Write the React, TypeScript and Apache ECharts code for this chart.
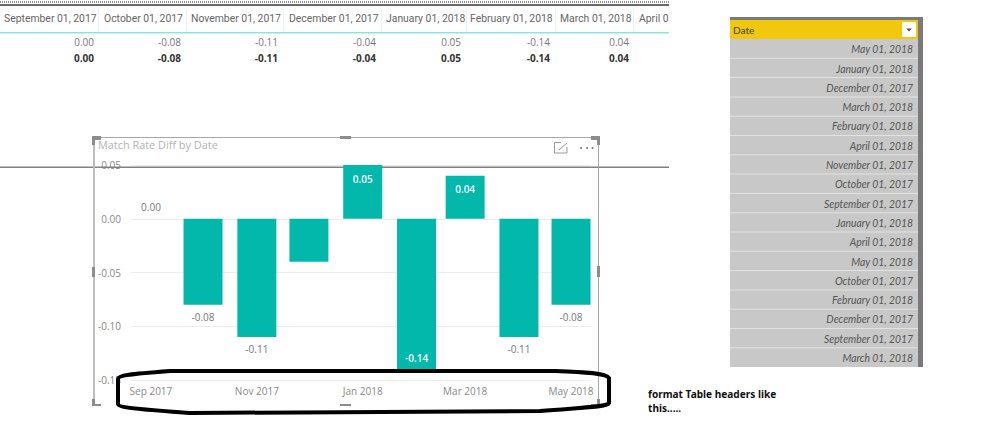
import React, { useEffect, useRef } from "react";
import * as echarts from "echarts";

const months = ["2017-09-01", "2017-10-01", "2017-11-01", "2017-12-01", "2018-01-01", "2018-02-01", "2018-03-01", "2018-04-01", "2018-05-01"];
const diffs = [0.0, -0.08, -0.11, -0.04, 0.05, -0.14, 0.04, -0.11, -0.08];
const tickMonths = ["2017-09-01", "2017-11-01", "2018-01-01", "2018-03-01", "2018-05-01"];
const tickLabels = ["Sep 2017", "Nov 2017", "Jan 2018", "Mar 2018", "May 2018"];

const headerNames = ["September 01, 2017", "October 01, 2017", "November 01, 2017", "December 01, 2017", "January 01, 2018", "February 01, 2018", "March 01, 2018", "April 01, 2018"];
const headerLefts = [4, 104, 191, 289, 386, 470, 560, 639];
const separators = [98, 186, 283, 381, 466, 555, 633];
const tableValues = ["0.00", "-0.08", "-0.11", "-0.04", "0.05", "-0.14", "0.04"];
const valueRights = [94, 181, 278, 376, 461, 550, 629];

const slicerDates = ["May 01, 2018", "January 01, 2018", "December 01, 2017", "March 01, 2018", "February 01, 2018", "April 01, 2018", "November 01, 2017", "October 01, 2017", "September 01, 2017", "January 01, 2018", "April 01, 2018", "May 01, 2018", "October 01, 2017", "February 01, 2018", "December 01, 2017", "September 01, 2017", "March 01, 2018"];

const ts = (s: string) => {
  const [y, m, d] = s.split("-").map(Number);
  return new Date(y, m - 1, d).getTime();
};

const labelFor = (v: number) => {
  if (v === -0.04) return { show: false };
  if (v === -0.14) return { show: true, position: "insideBottom", distance: 6, color: "#ffffff", fontWeight: 600 };
  if (v > 0) return { show: true, position: "insideTop", distance: 8.5, color: "#ffffff", fontWeight: 600 };
  if (v === 0) return { show: true, position: "top", distance: 7, color: "#777777" };
  return { show: true, position: "bottom", distance: 7, color: "#777777" };
};

const FONT = "'Open Sans', sans-serif";
const ANNOT = "M 118 379 C 118 375 130 374 170 371 L 555 371 C 585 372 606 373 609 378 L 609 403 C 607 407 590 407 540 411 L 190 413 C 150 410 118 408 118 404 Z";
echarts.graphic.registerShape("annotLoop", echarts.graphic.extendPath(ANNOT, {}));

export default function App() {
  const ref = useRef<HTMLDivElement>(null);
  useEffect(() => {
    document.body.style.margin = "0";
    const chart = echarts.init(ref.current!, null, { renderer: "svg" });
    const g: any[] = [];
    const rect = (x: number, y: number, w: number, h: number, fill: string, z = 1) =>
      g.push({ type: "rect", z, silent: true, shape: { x, y, width: w, height: h }, style: { fill } });
    const text = (x: number, y: number, t: string, style: any, z = 2, extra: any = {}) =>
      g.push({ type: "text", z, silent: true, x, y, ...extra, style: { text: t, verticalAlign: "middle", fontFamily: FONT, ...style } });

    // upper table
    g.push({ type: "line", z: 1, silent: true, shape: { x1: 0, y1: 2, x2: 669, y2: 2 }, style: { stroke: "#777777", lineWidth: 1.5, lineDash: [1, 1] } });
    rect(0, 4, 669, 2, "#6a6a6a");
    headerNames.forEach((n, i) => text(headerLefts[i], 18.5, n, { fill: "#666666", fontSize: 10.4, fontFamily: "Roboto, sans-serif" }));
    separators.forEach((x) => rect(x, 9, 1, 24, "#e6f4f2"));
    rect(669, 8, 40, 26, "#ffffff", 3);
    rect(0, 32, 669, 1.5, "#8fe3da");
    tableValues.forEach((v, i) => {
      text(valueRights[i], 41.5, v, { fill: "#777777", fontSize: 10, align: "right" });
      text(valueRights[i], 58, v, { fill: "#333333", fontSize: 10, fontWeight: 700, align: "right" });
    });

    // horizontal rule behind the chart
    rect(0, 166.5, 669, 1.5, "#808080", 0);

    // visual frame
    rect(93, 137, 505, 1, "#a6a6a6", 1);
    rect(93, 137, 2, 268, "#bdbdbd", 1);
    rect(598, 137, 1, 268, "#a6a6a6", 1);
    const handle = "#8c8c8c";
    rect(92, 136, 9, 4, handle, 5);
    rect(92, 136, 3, 9, handle, 5);
    rect(591, 136, 9, 4, handle, 5);
    rect(597, 136, 3, 9, handle, 5);
    rect(92, 399, 3, 6, handle, 5);
    rect(92, 404, 9, 2, handle, 5);
    rect(591, 404, 9, 2, handle, 5);
    rect(597, 399, 3, 6, handle, 5);
    rect(340, 136, 11, 3, handle, 5);
    rect(340, 404, 11, 2, handle, 5);
    rect(92, 267, 3, 10, handle, 5);
    rect(597, 266, 3, 11, handle, 5);
    // focus + more icons
    g.push({ type: "polyline", z: 2, silent: true, shape: { points: [[561, 142.5], [554.5, 142.5], [554.5, 153], [567, 153], [567, 147]] }, style: { fill: "none", stroke: "#9a9a9a", lineWidth: 1 } });
    g.push({ type: "line", z: 2, silent: true, shape: { x1: 559, y1: 150, x2: 567, y2: 143 }, style: { stroke: "#9a9a9a", lineWidth: 1 } });
    [581, 587, 592.5].forEach((x) => g.push({ type: "circle", z: 2, silent: true, shape: { cx: x, cy: 148, r: 1 }, style: { fill: "#777777" } }));

    // hand-drawn annotation
    g.push({ type: "annotLoop", z: 50, silent: true, x: 0, y: 0, style: { fill: "none", stroke: "#000000", lineWidth: 4 } });
    text(648, 394, "format Table headers like", { fill: "#111111", fontSize: 10.1, fontWeight: 700, fontFamily: "'Noto Sans', sans-serif" });
    text(648, 408, "this.....", { fill: "#111111", fontSize: 10.1, fontWeight: 700, fontFamily: "'Noto Sans', sans-serif" });

    // slicer table
    rect(730, 17, 193, 3, "#7a7a7a");
    rect(918, 17, 5, 350, "#7a7a7a");
    rect(730, 20, 188, 19, "#f2c80f");
    text(733, 29.5, "Date", { fill: "#4a4a3a", fontSize: 10, fontWeight: 500, fontFamily: "Lato, sans-serif" });
    rect(902, 22, 14, 15, "#ffffff", 2);
    g.push({ type: "polygon", z: 3, silent: true, shape: { points: [[906, 28.5], [912, 28.5], [909, 31.5]] }, style: { fill: "#555555" } });
    rect(730, 39, 188, 328, "#c8c8c8");
    slicerDates.forEach((d, i) => {
      const top = 39 + i * 19.3;
      if (i > 0) rect(730, top - 0.5, 188, 1, "#e2e2e2", 2);
      text(913, top + 9.6, d, { fill: "#555555", fontSize: 11, fontStyle: "italic", align: "right", fontFamily: "Lato, sans-serif" }, 2, { scaleX: 0.94 });
    });

    const tickTimes = tickMonths.map(ts);
    chart.setOption({
      animation: false,
      backgroundColor: "#ffffff",
      title: {
        text: "Match Rate Diff by Date",
        left: 93,
        top: 134,
        textStyle: { color: "#b3b3b3", fontSize: 10.9, fontWeight: "normal", fontFamily: FONT },
      },
      grid: { left: 131, right: 407, top: 165, bottom: 44, containLabel: false },
      xAxis: {
        type: "value",
        min: new Date(2017, 7, 20, 12).getTime(),
        max: new Date(2018, 4, 12, 12).getTime(),
        axisLine: { show: false },
        axisTick: { show: false },
        splitLine: { show: false },
        axisLabel: {
          customValues: tickTimes,
          formatter: (v: number) => tickLabels[tickTimes.indexOf(v)] ?? "",
          color: "#888888",
          fontSize: 10,
          fontFamily: FONT,
          margin: 6,
          hideOverlap: false,
        },
      },
      yAxis: {
        type: "value",
        min: -0.15,
        max: 0.05,
        interval: 0.05,
        axisLine: { show: false },
        axisTick: { show: false },
        splitLine: { lineStyle: { color: "#ececec", width: 1 } },
        axisLabel: {
          color: "#888888",
          fontSize: 10,
          fontFamily: FONT,
          margin: 10,
          formatter: (v: number) => v.toFixed(2),
        },
      },
      series: [
        {
          type: "bar",
          barWidth: 39,
          z: 10,
          itemStyle: { color: "#01b8aa" },
          label: { fontSize: 10, fontFamily: FONT, formatter: (p: any) => Number(p.value[1]).toFixed(2) },
          data: months.map((m, i) => ({ value: [ts(m), diffs[i]], label: labelFor(diffs[i]) })),
        },
      ],
      graphic: { elements: g },
    });
    return () => chart.dispose();
  }, []);
  return <div ref={ref} style={{ width: 998, height: 424 }} />;
}
